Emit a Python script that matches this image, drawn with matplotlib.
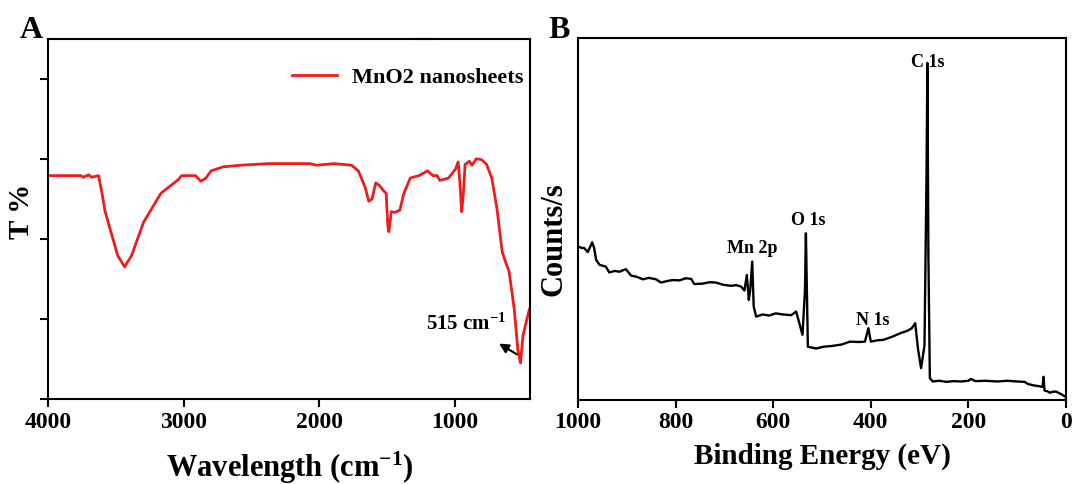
import matplotlib
matplotlib.use("Agg")
import matplotlib.pyplot as plt

plt.rcParams['font.family'] = ['Liberation Serif', 'DejaVu Serif']
plt.rcParams['font.weight'] = 'bold'
plt.rcParams['mathtext.fontset'] = 'custom'
plt.rcParams['mathtext.rm'] = 'Liberation Serif:bold'
plt.rcParams['mathtext.bf'] = 'Liberation Serif:bold'
plt.rcParams['mathtext.default'] = 'rm'

# ---- FT-IR spectrum of MnO2 nanosheets (wavenumber, transmittance a.u.) ----
ir_wavenumber = [4000, 3760, 3740, 3700, 3680, 3627, 3600, 3580, 3550, 3486, 3435, 3384,
                 3295, 3167, 3039, 3014, 2912, 2873, 2835, 2797, 2707, 2579, 2375, 2068,
                 2017, 1890, 1762, 1711, 1660, 1634, 1609, 1583, 1558, 1519, 1506, 1494,
                 1486, 1468, 1443, 1404, 1379, 1328, 1264, 1200, 1161, 1130, 1110, 1046,
                 995, 975, 962, 949, 937, 924, 893, 872, 842, 803, 765, 727, 689, 650, 625,
                 599, 561, 535, 515, 497, 450]
ir_transmittance = [2.79, 2.79, 2.77, 2.80, 2.77, 2.79, 2.55, 2.35, 2.17, 1.79, 1.65, 1.79,
                    2.21, 2.57, 2.74, 2.79, 2.79, 2.72, 2.76, 2.85, 2.90, 2.92, 2.94, 2.94,
                    2.92, 2.94, 2.92, 2.85, 2.64, 2.47, 2.50, 2.70, 2.67, 2.59, 2.57, 2.17,
                    2.09, 2.34, 2.33, 2.36, 2.55, 2.76, 2.79, 2.85, 2.79, 2.79, 2.73, 2.76,
                    2.87, 2.96, 2.70, 2.34, 2.55, 2.93, 2.97, 2.92, 3.00, 2.99, 2.93, 2.76,
                    2.38, 1.84, 1.71, 1.59, 1.12, 0.62, 0.45, 0.79, 1.12]
ir_peak_label = 515
ir_ticks = [4000, 3000, 2000, 1000]

# ---- XPS survey spectrum (binding energy eV, counts a.u.) ----
xps_energy = [1000, 993, 987, 980, 971, 967, 963, 956, 943, 936, 925, 915, 902, 891, 880,
              867, 855, 840, 830, 818, 806, 792, 779, 768, 762, 745, 730, 717, 703, 686,
              676, 666, 659, 654, 650, 647, 643, 640, 635, 622, 608, 595, 580, 563, 553,
              540, 535, 533, 529, 512, 497, 480, 460, 443, 425, 412, 405, 400, 385, 374,
              357, 340, 325, 316, 309, 303, 297, 290, 286, 284, 282, 279, 273, 260, 245,
              230, 215, 200, 195, 185, 165, 140, 120, 100, 85, 78, 65, 55, 48, 46, 44, 38,
              33, 26, 20, 10, 0]
xps_counts = [42.3, 42.0, 41.9, 40.8, 43.5, 42.0, 38.7, 37.3, 36.8, 35.2, 35.6, 35.4, 36.1,
              34.3, 34.0, 33.3, 33.7, 33.3, 32.4, 32.8, 33.1, 33.0, 33.6, 33.4, 32.0, 32.1,
              32.5, 32.4, 31.8, 31.5, 31.7, 31.3, 30.2, 34.5, 27.6, 30.5, 38.2, 25.8, 23.0,
              23.6, 23.3, 23.9, 23.6, 23.4, 24.4, 18.0, 30.0, 46.0, 14.7, 14.2, 14.7, 14.9,
              15.3, 16.1, 16.0, 16.1, 19.8, 16.1, 16.5, 16.6, 17.4, 18.4, 19.1, 19.8, 21.2,
              13.8, 8.8, 15.0, 60.0, 93.0, 40.0, 6.0, 5.1, 5.3, 5.0, 5.2, 5.1, 5.3, 5.8,
              5.2, 5.3, 5.1, 5.3, 5.1, 5.0, 4.4, 4.0, 3.8, 3.6, 6.4, 2.6, 2.4, 2.0, 2.3,
              2.3, 1.6, 0.8]
xps_peaks = ["C 1s", "O 1s", "Mn 2p", "N 1s"]
xps_peak_energy = [283, 529, 642, 397]
xps_peak_height = [93.2, 49.6, 41.7, 21.8]
xps_ticks = [1000, 800, 600, 400, 200, 0]

fig = plt.figure(figsize=(10.72, 4.84), dpi=100)
axA = fig.add_axes([0.0448, 0.1756, 0.4496, 0.7444])
axB = fig.add_axes([0.5392, 0.1736, 0.4552, 0.7487])

for ax in (axA, axB):
    for sp in ax.spines.values():
        sp.set_linewidth(1.5)
    ax.tick_params(direction='out', width=1.5, length=6, labelsize=17, pad=3,
                   top=False, right=False)

# Panel A: FT-IR
axA.plot(ir_wavenumber, ir_transmittance, color='#ee1c1c', lw=2.0,
         label='MnO2 nanosheets')
axA.set_xlim(4000, 445)
axA.set_ylim(0, 4.5)
axA.set_xticks(ir_ticks)
axA.set_yticks([0, 1, 2, 3, 4])
axA.set_yticklabels([])
axA.legend(loc='upper right', bbox_to_anchor=(1.005, 0.945), frameon=False,
           handlelength=2.0, handletextpad=0.7, borderaxespad=0,
           prop={'family': 'Liberation Serif', 'weight': 'bold', 'size': 16})
axA.plot([0.755, 0.805], [1.0, 1.0], transform=axA.transAxes, color='#ee1c1c',
         lw=1.5, clip_on=False)
axA.annotate('', xy=(691, 0.71), xytext=(524, 0.54),
             arrowprops=dict(arrowstyle='-|>', color='k', lw=1.5, mutation_scale=14))
axA.text(915, 0.94, f'{ir_peak_label} cm$^{{-1}}$', ha='center', va='center',
         fontsize=15, fontweight='bold')
axA.text(0.502, -0.19, 'Wavelength (cm$^{-1}$)', transform=axA.transAxes,
         ha='center', va='center', fontsize=22, fontweight='bold')
axA.text(-0.054, 0.52, 'T %', transform=axA.transAxes, rotation=90,
         ha='center', va='center', fontsize=21, fontweight='bold')
fig.text(0.029, 0.937, 'A', ha='center', va='center', fontsize=23, fontweight='bold')

# Panel B: XPS survey
axB.plot(xps_energy, xps_counts, color='black', lw=1.7)
axB.set_xlim(1000, 0)
axB.set_ylim(0, 100)
axB.set_xticks(xps_ticks)
axB.set_yticks([])
for name, e, h in zip(xps_peaks, xps_peak_energy, xps_peak_height):
    axB.text(e, h, name, ha='center', va='center', fontsize=13, fontweight='bold')
axB.text(0.5, -0.155, 'Binding Energy (eV)', transform=axB.transAxes,
         ha='center', va='center', fontsize=21, fontweight='bold')
axB.text(-0.05, 0.445, 'Counts/s', transform=axB.transAxes, rotation=90,
         ha='center', va='center', fontsize=22, fontweight='bold')
fig.text(0.522, 0.937, 'B', ha='center', va='center', fontsize=23, fontweight='bold')

fig.savefig('out.png', dpi=100)
